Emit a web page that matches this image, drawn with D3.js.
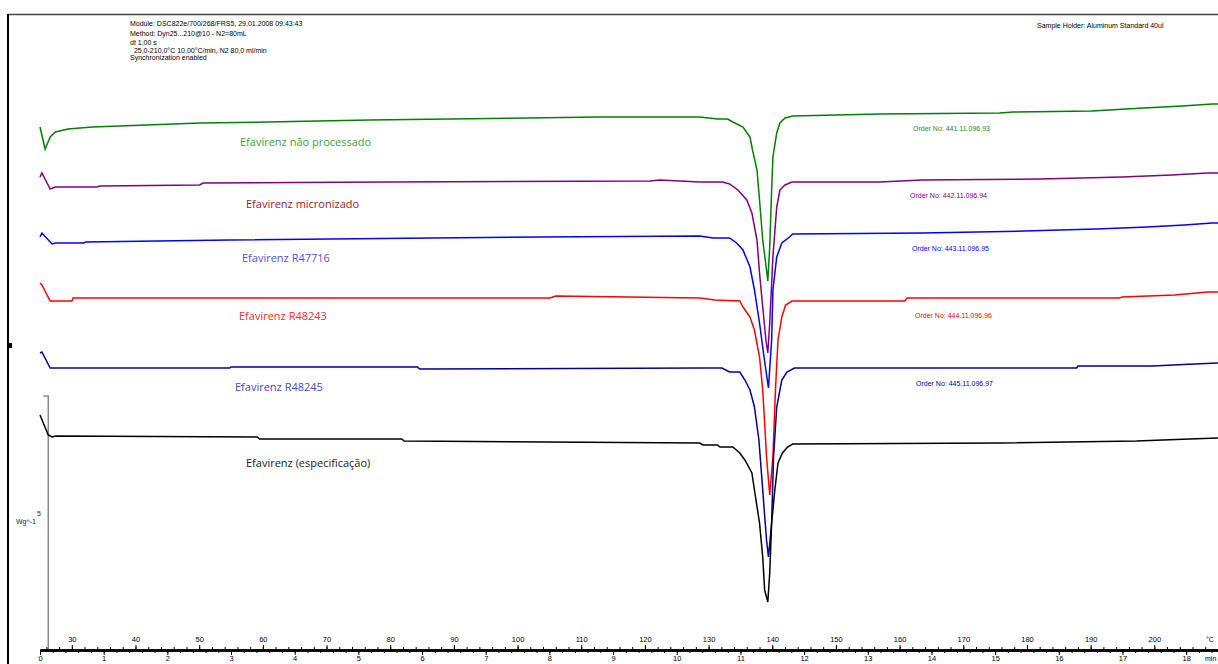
<!DOCTYPE html>
<html>
<head>
<meta charset="utf-8">
<script src="https://cdn.jsdelivr.net/npm/d3@7"></script>
<style>
body { margin: 0; background: #fff; overflow: hidden; }
svg { display: block; }
.small { font-family: "Liberation Sans", Arial, sans-serif; font-size: 7px; }
.lbl { font-family: "Open Sans", sans-serif; font-size: 11px; }
</style>
</head>
<body>
<svg width="1218" height="664"></svg>
<script>
// DSC curves, time in min, heat flow in arbitrary (offset) units
var green = [[0,52.2],[0.08,50.0],[0.16,51.2],[0.24,51.7],[0.31,51.8],[0.44,52.0],[0.82,52.2],[2.51,52.6],[3.56,52.7],[5.18,52.9],[8.79,53.2],[10.36,53.2],[10.64,53.0],[10.80,53.0],[10.88,52.7],[11.04,52.2],[11.15,51.2],[11.19,49.9],[11.26,47.9],[11.30,44.9],[11.35,40.9],[11.41,37.9],[11.43,36.8],[11.46,40.2],[11.49,45.9],[11.51,49.2],[11.57,51.6],[11.62,52.6],[11.70,53.1],[11.82,53.3],[13.19,53.5],[15.07,53.6],[15.29,53.7],[16.52,53.8],[17.33,54.1],[17.94,54.3],[18.41,54.5],[18.5,54.5]];
var purple = [[0,47.2],[0.03,47.6],[0.16,46.0],[0.24,46.2],[0.89,46.2],[0.94,46.3],[2.51,46.4],[2.56,46.6],[5.46,46.7],[9.58,46.8],[9.73,46.9],[10.36,46.7],[10.72,46.7],[10.83,46.5],[10.96,45.9],[11.10,44.9],[11.18,43.6],[11.26,40.9],[11.30,37.6],[11.35,34.2],[11.40,30.9],[11.43,29.6],[11.46,32.6],[11.51,39.2],[11.57,44.2],[11.62,45.9],[11.70,46.4],[11.81,46.7],[13.19,46.7],[13.85,46.9],[15.70,47.0],[17.00,47.2],[17.77,47.4],[18.34,47.6],[18.5,47.6]];
var blue = [[0,41.2],[0.03,41.6],[0.19,40.5],[0.24,40.6],[0.68,40.6],[0.72,40.7],[2.98,40.9],[7.85,41.2],[10.36,41.3],[10.57,41.1],[10.83,41.1],[10.94,40.6],[11.04,39.9],[11.15,38.2],[11.22,35.9],[11.30,32.6],[11.37,29.2],[11.44,26.1],[11.49,30.9],[11.51,35.9],[11.57,39.2],[11.65,40.6],[11.77,41.2],[11.82,41.5],[13.86,41.6],[15.46,41.8],[16.59,42.0],[17.39,42.2],[17.97,42.4],[18.41,42.6],[18.5,42.6]];
var red = [[0,36.6],[0.03,36.4],[0.16,34.8],[0.50,34.8],[0.52,35.1],[8.01,35.1],[8.10,35.3],[10.36,35.1],[10.60,34.9],[10.99,34.8],[11.04,34.2],[11.15,33.2],[11.22,31.9],[11.30,29.2],[11.35,25.9],[11.38,22.6],[11.41,19.2],[11.46,15.4],[11.51,19.2],[11.55,25.9],[11.59,30.9],[11.65,33.2],[11.71,34.4],[11.81,34.8],[13.58,34.8],[13.62,35.1],[16.95,35.1],[17.00,35.2],[17.82,35.4],[18.34,35.7],[18.5,35.7]];
var navy = [[0,29.6],[0.03,29.7],[0.16,28.1],[2.98,28.1],[3.00,28.2],[5.93,28.2],[5.96,28.0],[10.36,28.1],[10.71,28.1],[10.83,27.7],[10.99,27.7],[11.07,26.9],[11.15,25.9],[11.22,24.2],[11.29,20.9],[11.33,17.6],[11.37,14.2],[11.41,10.9],[11.44,9.2],[11.49,12.6],[11.52,19.2],[11.57,24.2],[11.65,26.9],[11.73,27.7],[11.85,28.1],[16.28,28.1],[16.30,28.3],[17.47,28.3],[18.13,28.5],[18.5,28.6]];
var black = [[0,23.4],[0.13,21.4],[0.19,21.2],[0.25,21.3],[3.41,21.2],[3.45,21.0],[5.68,21.0],[5.72,20.8],[10.36,20.6],[10.41,20.4],[10.64,20.4],[10.68,20.2],[10.88,20.2],[10.99,19.6],[11.07,18.9],[11.18,17.6],[11.22,15.9],[11.30,12.6],[11.35,9.2],[11.38,5.9],[11.43,4.7],[11.46,7.6],[11.49,12.6],[11.54,15.9],[11.59,18.6],[11.66,19.6],[11.74,20.2],[11.82,20.5],[15.07,20.6],[17.22,20.8],[18.05,21.0],[18.5,21.1]];
var scaleBar = [[0.05,25.3],[0.13,25.3],[0.13,0]];

var seriesNames = ["Efavirenz não processado", "Efavirenz micronizado", "Efavirenz R47716", "Efavirenz R48243", "Efavirenz R48245", "Efavirenz (especificação)"];
var orderNos = ["Order No: 441.11.096.93", "Order No: 442.11.096.94", "Order No: 443.11.096.95", "Order No: 444.11.096.96", "Order No: 445.11.096.97"];
var headerLines = ["Module: DSC822e/700/268/FRS5, 29.01.2008 09:43:43", "Method: Dyn25...210@10 - N2=80mL", "dt 1,00 s", "  25,0-210,0°C 10,00°C/min, N2 80,0 ml/min", "Synchronization enabled"];
var holderText = "Sample Holder: Aluminum Standard 40ul";
var timeTicks = d3.range(0, 19, 1);
var tempTicks = d3.range(30, 201, 10);

var svg = d3.select("svg");

var x = d3.scaleLinear().domain([0, 18.5]).range([40, 1218]);
var xT = d3.scaleLinear().domain([25, 210]).range([40, 1218]);
var y = d3.scaleLinear().domain([0, 63.5]).range([649, 14]);

var line = d3.line()
    .x(function(d) { return x(d[0]); })
    .y(function(d) { return y(d[1]); });

// frame
svg.append("line").attr("x1", 8).attr("x2", 1218).attr("y1", 14.5).attr("y2", 14.5)
    .attr("stroke", "#444").attr("stroke-width", 1.5);
svg.append("line").attr("x1", 8).attr("x2", 8).attr("y1", 14).attr("y2", 664)
    .attr("stroke", "#000").attr("stroke-width", 2);
svg.append("rect").attr("x", 8).attr("y", 343).attr("width", 4).attr("height", 5).attr("fill", "#000");

// header
svg.append("g").selectAll("text")
    .data(headerLines)
    .enter().append("text")
      .attr("class", "small")
      .attr("x", 130)
      .attr("y", function(d, i) { return [26, 36, 45, 53, 60][i]; })
      .attr("xml:space", "preserve")
      .text(function(d) { return d; });
svg.append("text").attr("class", "small").attr("x", 1037).attr("y", 28).text(holderText);

// scale bar line on the left
svg.append("path").datum(scaleBar)
    .attr("d", line).attr("fill", "none").attr("stroke", "#888").attr("stroke-width", 1.5);
svg.append("text").attr("class", "small").attr("x", 37).attr("y", 516).attr("fill", "#223").text("5");
svg.append("text").attr("class", "small").attr("x", 16).attr("y", 524).attr("fill", "#223").text("Wg^-1");

// curves
var curves = [
  {data: green, color: "#008000"},
  {data: purple, color: "#800080"},
  {data: blue, color: "#0000ff"},
  {data: red, color: "#ff0000"},
  {data: navy, color: "#000099"},
  {data: black, color: "#000000"}
];
svg.append("g").selectAll("path")
    .data(curves)
    .enter().append("path")
      .attr("d", function(d) { return line(d.data); })
      .attr("fill", "none")
      .attr("stroke", function(d) { return d.color; })
      .attr("stroke-width", 1.5);

// series labels
var labelColors = ["#3c9f3c", "#9a1c1c", "#5050dc", "#ff2a2a", "#4848cc", "#222"];
var labelPos = [[240, 146], [246, 208], [242, 262], [239, 320], [235, 391], [246, 467]];
svg.append("g").selectAll("text")
    .data(seriesNames)
    .enter().append("text")
      .attr("class", "lbl")
      .attr("x", function(d, i) { return labelPos[i][0]; })
      .attr("y", function(d, i) { return labelPos[i][1]; })
      .attr("fill", function(d, i) { return labelColors[i]; })
      .text(function(d) { return d; });

var orderColors = ["#1d8a1d", "#800080", "#0000ff", "#ff0000", "#000099"];
var orderPos = [[913, 131], [910, 198], [912, 251], [915, 318], [916, 386]];
svg.append("g").selectAll("text")
    .data(orderNos)
    .enter().append("text")
      .attr("class", "small")
      .attr("x", function(d, i) { return orderPos[i][0]; })
      .attr("y", function(d, i) { return orderPos[i][1]; })
      .attr("fill", function(d, i) { return orderColors[i]; })
      .text(function(d) { return d; });

// bottom axes: temperature above, time below
var axisY = 650;
svg.append("g").attr("transform", "translate(0," + axisY + ")")
    .call(d3.axisBottom(x).tickValues(d3.range(0, 18.5, 0.2)).tickSize(3).tickFormat("").tickSizeOuter(0));
svg.append("g").attr("transform", "translate(0," + axisY + ")")
    .call(d3.axisBottom(x).tickValues(timeTicks).tickSize(5).tickPadding(1).tickSizeOuter(0));
svg.append("g").attr("transform", "translate(0," + axisY + ")")
    .call(d3.axisTop(xT).tickValues(d3.range(26, 210, 2)).tickSize(3).tickFormat("").tickSizeOuter(0));
svg.append("g").attr("transform", "translate(0," + axisY + ")")
    .call(d3.axisTop(xT).tickValues(tempTicks).tickSize(5).tickPadding(3).tickSizeOuter(0));

svg.selectAll(".domain").attr("stroke", "#000").attr("stroke-width", 2);
svg.selectAll(".tick line").attr("stroke", "#000");
svg.selectAll(".tick text").attr("font-family", "Liberation Sans, Arial, sans-serif").attr("font-size", 7.5).attr("fill", "#000");

svg.append("text").attr("class", "small").attr("x", 1206).attr("y", 642).text("°C");
svg.append("text").attr("class", "small").attr("x", 1205).attr("y", 661).text("min");
</script>
</body>
</html>
